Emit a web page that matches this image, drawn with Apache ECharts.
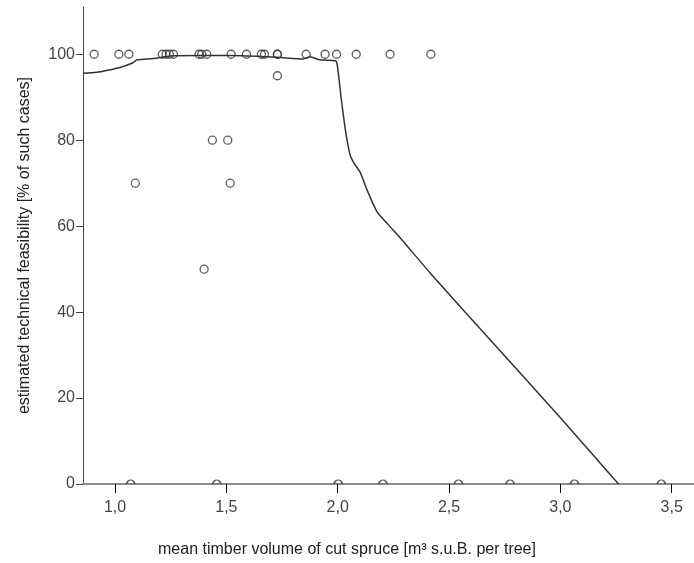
<!DOCTYPE html>
<html>
<head>
<meta charset="utf-8">
<script src="https://cdn.jsdelivr.net/npm/echarts@6/dist/echarts.min.js"></script>
<style>html,body{margin:0;padding:0;background:#fff;}#chart{width:694px;height:563px;}</style>
</head>
<body>
<div id="chart"></div>
<script>
// Observed cases (x: mean timber volume, y: feasibility %)
const caseX = [0.906, 1.017, 1.062, 1.212, 1.229, 1.244, 1.262, 1.377, 1.389, 1.412, 1.521, 1.590, 1.657, 1.671, 1.729, 1.729, 1.858, 1.943, 1.995, 2.083, 2.235, 2.418,
               1.729, 1.437, 1.506, 1.091, 1.517, 1.400,
               1.070, 1.457, 2.002, 2.203, 2.542, 2.774, 3.063, 3.453];
const caseY = [100, 100, 100, 100, 100, 100, 100, 100, 100, 100, 100, 100, 100, 100, 100, 100, 100, 100, 100, 100, 100, 100,
               95, 80, 80, 70, 70, 50,
               0, 0, 0, 0, 0, 0, 0, 0];
// Fitted curve
const fitX = [0.856, 0.918, 0.978, 1.022, 1.075, 1.100, 1.172, 1.247, 1.382, 1.517, 1.726, 1.845, 1.875, 1.920, 1.990, 1.998, 2.015, 2.030, 2.042, 2.056, 2.075, 2.101, 2.131, 2.176, 2.228, 2.280, 2.415, 2.595, 3.007, 3.261];
const fitY = [95.6, 95.8, 96.4, 96.9, 97.9, 98.7, 99.0, 99.6, 99.7, 99.7, 99.3, 98.9, 99.4, 98.7, 98.5, 97.5, 90.0, 84.0, 80.0, 76.5, 74.5, 72.5, 68.5, 63.4, 60.3, 57.3, 49.1, 38.7, 15.0, 0];
const xTicks = [1.0, 1.5, 2.0, 2.5, 3.0, 3.5];
const xTitle = 'mean timber volume of cut spruce [m³ s.u.B. per tree]';
const yTitle = 'estimated technical feasibility [% of such cases]';

const fullPts = [], zeroPts = [];
caseX.forEach((x, i) => { (caseY[i] === 0 ? zeroPts : fullPts).push([x, caseY[i]]); });
const fitData = fitX.map((x, i) => [x, fitY[i]]);

const font = '"Liberation Sans", Arial, sans-serif';
const chart = echarts.init(document.getElementById('chart'));
chart.setOption({
  animation: false,
  backgroundColor: '#fff',
  title: { text: xTitle, left: 'center', top: 537,
    textStyle: { fontFamily: font, fontSize: 16, fontWeight: 'normal', color: '#222' } },
  grid: { left: 83, top: 7, right: 0, bottom: 79, containLabel: false },
  xAxis: [{
    type: 'value', min: 0.856, max: 3.6,
    axisLine: { show: true, onZero: false, lineStyle: { color: '#000', width: 1 } },
    axisTick: { show: true, customValues: xTicks, length: 9, lineStyle: { color: '#000' } },
    axisLabel: { customValues: xTicks, fontFamily: font, fontSize: 16, color: '#444', margin: 16,
      formatter: v => v.toFixed(1).replace('.', ',') },
    splitLine: { show: false }
  }, {
    type: 'value', min: 0.856, max: 3.6, position: 'top',
    axisLine: { show: true, lineStyle: { color: '#8c8c8c', width: 2 } },
    axisTick: { show: false }, axisLabel: { show: false }, splitLine: { show: false }
  }],
  yAxis: {
    type: 'value', min: 0, max: 111, interval: 20,
    name: yTitle,
    nameLocation: 'middle', nameGap: 50,
    nameTextStyle: { fontFamily: font, fontSize: 16, color: '#222' },
    axisLine: { show: true, lineStyle: { color: '#444', width: 1 } },
    axisTick: { show: true, length: 7, lineStyle: { color: '#444' } },
    axisLabel: { fontFamily: font, fontSize: 16, color: '#444', margin: 8, showMaxLabel: false },
    splitLine: { show: false }
  },
  series: [{
    type: 'line', data: fitData, showSymbol: false, smooth: 0.25, z: 3,
    lineStyle: { color: '#333', width: 1.5 }
  }, {
    type: 'scatter', data: fullPts, symbol: 'circle', symbolSize: 8, z: 4,
    itemStyle: { color: 'rgba(0,0,0,0)', borderColor: '#333', borderWidth: 1.3 }
  }, {
    type: 'scatter', data: zeroPts, symbol: 'path://M0,10A10,10,0,0,1,20,10', symbolSize: [8, 4],
    symbolOffset: [0, -2], z: 4,
    itemStyle: { color: 'none', borderColor: '#333', borderWidth: 1.3 }
  }]
});
</script>
</body>
</html>
